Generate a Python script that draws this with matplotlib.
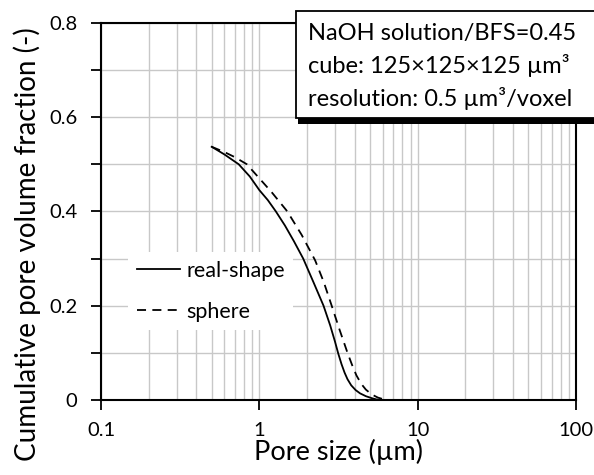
import numpy as np
import matplotlib
matplotlib.use("Agg")
import matplotlib.pyplot as plt
from matplotlib.patches import Rectangle
from matplotlib.ticker import LogLocator, MultipleLocator, FixedLocator, NullFormatter

plt.rcParams['font.family'] = ['Lato', 'DejaVu Sans']

# pore size (um) and cumulative pore volume fraction
real_x = [0.5, 0.6, 0.74, 0.87, 1.0, 1.13, 1.27, 1.45, 1.65, 1.89, 2.2, 2.54,
          2.8, 3.0, 3.15, 3.3, 3.45, 3.6, 3.8, 4.05, 4.32, 4.7, 5.1, 5.5, 5.9]
real_y = [0.537, 0.521, 0.50, 0.474, 0.445, 0.424, 0.40, 0.37, 0.337, 0.30, 0.249, 0.20,
          0.158, 0.124, 0.098, 0.076, 0.058, 0.044, 0.031, 0.021, 0.014, 0.008, 0.004, 0.001, 0.0]
sphere_x = [0.5, 0.6, 0.7, 0.833, 1.0, 1.2, 1.5, 1.85, 2.25, 2.55, 2.86, 3.2,
            3.6, 3.85, 4.1, 4.4, 4.7, 5.1, 5.6, 6.0, 6.5]
sphere_y = [0.537, 0.526, 0.515, 0.50, 0.47, 0.44, 0.40, 0.35, 0.296, 0.25, 0.20, 0.15,
            0.10, 0.074, 0.052, 0.034, 0.022, 0.012, 0.005, 0.002, 0.0]

x_ticks = [0.1, 1, 10, 100]
x_labels = ['0.1', '1', '10', '100']
y_ticks = [0, 0.2, 0.4, 0.6, 0.8]
y_labels = ['0', '0.2', '0.4', '0.6', '0.8']

info = ["NaOH solution/BFS=0.45",
        "cube: 125\u00d7125\u00d7125 \u00b5m\u00b3",
        "resolution: 0.5 \u00b5m\u00b3/voxel"]

fig = plt.figure(figsize=(5.94, 4.75), dpi=100)
ax = fig.add_axes([0.170, 0.158, 0.800, 0.794])

ax.plot(real_x, real_y, color='black', lw=1.3, label='real-shape')
ax.plot(sphere_x, sphere_y, color='black', lw=1.3, ls=(0, (5, 3.5)), label='sphere')

ax.set_xscale('log')
ax.set_xlim(0.1, 100)
ax.set_ylim(0, 0.8)
ax.xaxis.set_major_locator(FixedLocator(x_ticks))
ax.set_xticklabels(x_labels)
ax.xaxis.set_minor_locator(LogLocator(base=10, subs=np.arange(2, 10)))
ax.xaxis.set_minor_formatter(NullFormatter())
ax.set_yticks(y_ticks)
ax.set_yticklabels(y_labels)
ax.yaxis.set_minor_locator(MultipleLocator(0.1))

ax.grid(True, which='both', color='#c8c8c8', lw=1.0)
ax.set_axisbelow(True)
ax.tick_params(axis='both', which='major', direction='out', length=7, width=1.3,
               labelsize=14.5, colors='black')
ax.tick_params(axis='y', which='minor', direction='out', length=7, width=1.3)
ax.tick_params(axis='x', which='minor', length=0)
ax.tick_params(axis='x', pad=9)
ax.tick_params(axis='y', pad=10)
for s in ax.spines.values():
    s.set_linewidth(1.5)
    s.set_color('black')

ax.set_xlabel('Pore size (\u00b5m)', fontsize=19.5, labelpad=0)
ax.set_ylabel('Cumulative pore volume fraction (-)', fontsize=20)
ax.yaxis.set_label_coords(-0.126, 0.414)

leg = ax.legend(loc='upper left', bbox_to_anchor=(0.057, 0.392), fontsize=15.5,
                frameon=True, framealpha=1, edgecolor='none', fancybox=False,
                handlelength=2.0, handletextpad=0.3, borderaxespad=0, borderpad=0.4,
                labelspacing=0.98)

# info box with shadow in the top right corner
fig.patches.append(Rectangle((298 / 594, 1 - 124 / 475), 0.6, (124 - 17) / 475,
                             transform=fig.transFigure, facecolor='black',
                             edgecolor='none', zorder=5))
fig.patches.append(Rectangle((296 / 594, 1 - 118 / 475), 0.6, (118 - 10.7) / 475,
                             transform=fig.transFigure, facecolor='white',
                             edgecolor='black', lw=1.3, zorder=6))
for i, line in enumerate(info):
    fig.text(308 / 594, 1 - (40 + 33 * i) / 475, line, fontsize=17,
             ha='left', va='baseline', zorder=7)

fig.savefig('out.png', dpi=100)
